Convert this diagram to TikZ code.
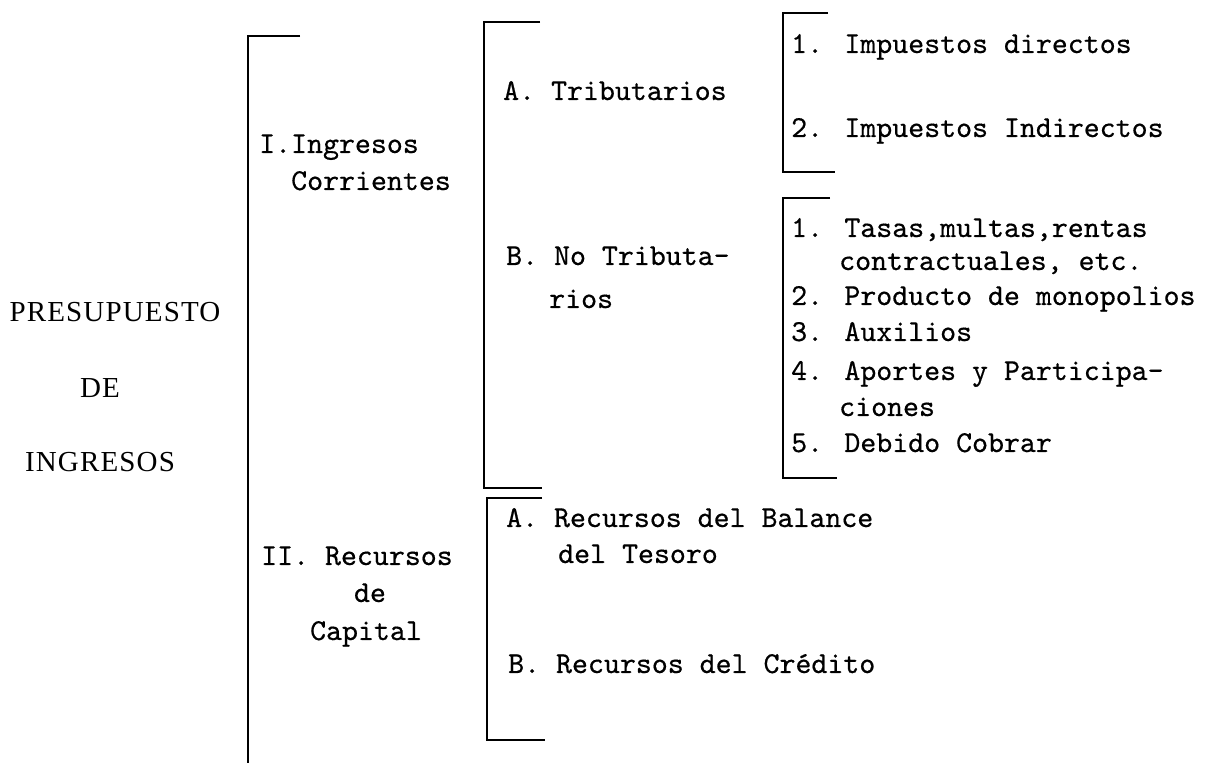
\documentclass[tikz,border=0pt]{standalone}
\usepackage{fontspec}
\setmainfont{Liberation Serif}
\newfontfamily\typefont[FakeBold=0.5]{lmmono10-regular.otf}
\newfontfamily\titlefont[LetterSpace=4]{Liberation Serif}

\begin{document}
\begin{tikzpicture}[x=0.5pt,y=-0.5pt,line width=1.2pt,line join=miter,
        txt/.style={anchor=base west,inner sep=0pt,font=\typefont\fontsize{15.2}{18}\selectfont},
        ctxt/.style={txt,anchor=base},
        ttl/.style={anchor=base,inner sep=0pt,font=\titlefont\fontsize{14.5}{17}\selectfont}]
        \useasboundingbox (0,0) rectangle (1216,763);

        % draw the title on the left
        \node[ttl] (pres) at (115,322) {PRESUPUESTO};
        \node[ttl] (de)   at (100,398) {DE};
        \node[ttl] (ingr) at (100,472) {INGRESOS};

        % draw the brackets
        \draw (300,36) -- (248,36) -- (248,763);
        \draw (540,22) -- (484,22) -- (484,488) -- (542,488);
        \draw (542,498) -- (487,498) -- (487,740) -- (545,740);
        \draw (828,13) -- (783,13) -- (783,172) -- (835,172);
        \draw (830,198) -- (783,198) -- (783,478) -- (837,478);

        % the two main groups
        \node[txt] (icorr) at (258,153) {I.Ingresos};
        \node[txt] (icorr2) at (290,190) {Corrientes};
        \node[txt] (iicap) at (260,565) {II. Recursos};
        \node[ctxt] (iicap2) at (370,602) {de};
        \node[ctxt] (iicap3) at (366,640) {Capital};

        % second level
        \node[txt] (atrib) at (502,100) {A. Tributarios};
        \node[txt] (bnotrib) at (505,265) {B. No Tributa-};
        \node[txt] (bnotrib2) at (548,308) {rios};
        \node[txt] (arec) at (505,527) {A. Recursos del Balance};
        \node[txt] (arec2) at (557,563) {del Tesoro};
        \node[txt] (bcred) at (507,673) {B. Recursos del Crédito};

        % third level, tributarios
        \node[txt] (imp1) at (790,53)  {1. Impuestos directos};
        \node[txt] (imp2) at (790,137) {2. Impuestos Indirectos};

        % third level, no tributarios
        \node[txt] (nt1)  at (790,237) {1. Tasas,multas,rentas};
        \node[txt] (nt1b) at (838,270) {contractuales, etc.};
        \node[txt] (nt2)  at (790,305) {2. Producto de monopolios};
        \node[txt] (nt3)  at (790,341) {3. Auxilios};
        \node[txt] (nt4)  at (790,380) {4. Aportes y Participa-};
        \node[txt] (nt4b) at (838,416) {ciones};
        \node[txt] (nt5)  at (790,452) {5. Debido Cobrar};
\end{tikzpicture}
\end{document}
